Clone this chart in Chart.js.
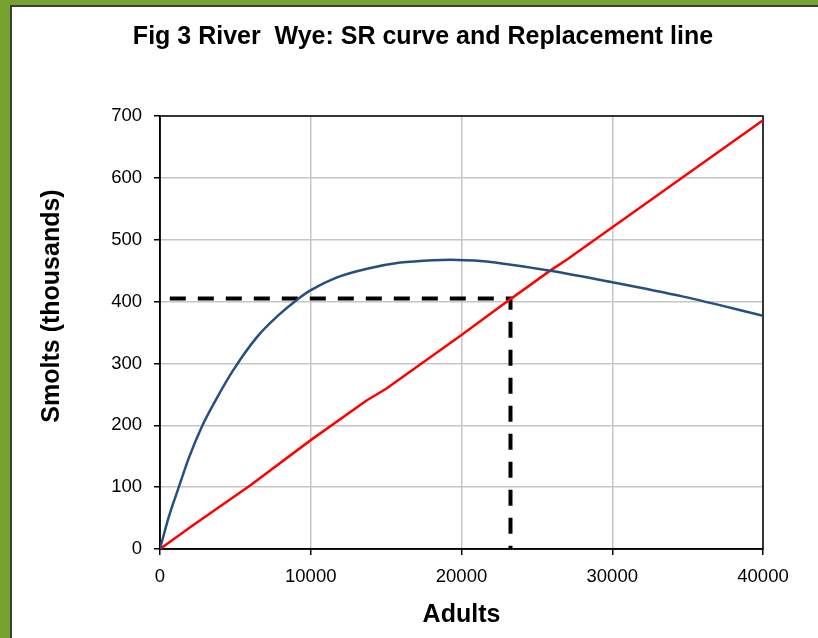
<!DOCTYPE html>
<html lang="en">
<head>
    <meta charset="UTF-8">
    <title>River Wye SR curve</title>
    <script src="https://cdn.jsdelivr.net/npm/chart.js"></script>
    <style>
        html, body {
            margin: 0;
            padding: 0;
            width: 818px;
            height: 638px;
            overflow: hidden;
            background: #78a22f;
        }
        #frame {
            position: absolute;
            left: 10px;
            top: 5px;
            width: 820px;
            height: 640px;
            background: #ffffff;
            border-left: 2px solid #3c3c3c;
            border-top: 2px solid #3c3c3c;
        }
        #srChart {
            position: absolute;
            left: 0;
            top: 0;
        }
    </style>
</head>
<body>
    <div id="frame"></div>
    <canvas id="srChart" width="818" height="638"></canvas>

    <script>
        // Stock-recruitment curve (adults -> smolts, thousands)
        const srAdults = [0, 583, 1246, 1909, 2797, 3678, 4827, 6442, 7768, 9094, 9975, 11745, 13733, 15941, 18150, 19255, 21462, 22570, 25883, 29860, 34718, 40000];
        const srSmolts = [0, 52, 100, 147, 199, 240, 288, 343, 376, 403, 418, 439, 453, 463, 467, 467.5, 465, 462, 450, 432, 408, 377];

        // Replacement line
        const repAdults = [0, 2000, 6000, 10000, 13700, 15000, 20000, 22570, 25880, 27000, 40000];
        const repSmolts = [0, 35, 103, 176, 240, 259, 346, 392, 450, 468, 693];

        // Dashed guide to the crossing point
        const guideAdults = [650, 23250, 23250];
        const guideSmolts = [405, 405, 0];

        const yTicks = [0, 100, 200, 300, 400, 500, 600, 700];

        const chartTitle = 'Fig 3 River  Wye: SR curve and Replacement line';
        const yAxisTitle = 'Smolts (thousands)';

        const toXY = (xs, ys) => xs.map((x, i) => ({ x: x, y: ys[i] }));

        const fontFamily = "'Liberation Sans', Arial, sans-serif";

        // box round the plot area (top and right edges too)
        const plotFrame = {
            id: 'plotFrame',
            beforeDatasetsDraw(chart) {
                const { ctx, chartArea: a } = chart;
                ctx.save();
                ctx.strokeStyle = '#000000';
                ctx.lineWidth = 1.5;
                ctx.strokeRect(a.left, a.top, a.right - a.left, a.bottom - a.top);
                ctx.restore();
            }
        };

        // heading and rotated y axis title
        const extraText = {
            id: 'extraText',
            afterDraw(chart) {
                const ctx = chart.ctx;
                ctx.save();
                ctx.fillStyle = '#000000';
                ctx.textAlign = 'center';
                ctx.textBaseline = 'middle';
                ctx.font = "bold 25px " + fontFamily;
                ctx.fillText(chartTitle, 423, 37);

                ctx.translate(52, 306);
                ctx.rotate(-Math.PI / 2);
                ctx.fillText(yAxisTitle, 0, 0);
                ctx.restore();
            }
        };

        const ctx = document.getElementById('srChart').getContext('2d');
        new Chart(ctx, {
            type: 'line',
            data: {
                datasets: [
                    {
                        label: 'SR curve',
                        data: toXY(srAdults, srSmolts),
                        borderColor: '#264f80',
                        borderWidth: 2.5,
                        pointRadius: 0,
                        cubicInterpolationMode: 'monotone',
                        fill: false
                    },
                    {
                        label: 'Replacement line',
                        data: toXY(repAdults, repSmolts),
                        borderColor: '#ff0000',
                        borderWidth: 2.5,
                        pointRadius: 0,
                        tension: 0,
                        fill: false
                    },
                    {
                        label: 'Equilibrium',
                        data: toXY(guideAdults, guideSmolts),
                        borderColor: '#000000',
                        borderWidth: 4,
                        borderDash: [16, 12],
                        pointRadius: 0,
                        tension: 0,
                        fill: false
                    }
                ]
            },
            options: {
                responsive: false,
                animation: false,
                layout: {
                    padding: { left: 0, right: 55, top: 116, bottom: 0 }
                },
                plugins: {
                    legend: { display: false },
                    tooltip: { enabled: false },
                    title: { display: false }
                },
                scales: {
                    x: {
                        type: 'linear',
                        min: 0,
                        max: 40000,
                        afterFit: (scale) => { scale.height = 89; },
                        ticks: {
                            stepSize: 10000,
                            color: '#000000',
                            padding: 11,
                            maxRotation: 0,
                            font: { family: fontFamily, size: 18.5 },
                            callback: (v) => String(v)
                        },
                        grid: {
                            color: '#c6c6c6',
                            lineWidth: 1.5,
                            tickColor: '#000000',
                            tickLength: 6,
                            tickWidth: 1.5
                        },
                        border: { color: '#000000', width: 1.5 },
                        title: {
                            display: true,
                            text: 'Adults',
                            color: '#000000',
                            font: { family: fontFamily, size: 25, weight: 'bold' },
                            padding: { top: 0, bottom: 8 }
                        }
                    },
                    y: {
                        min: 0,
                        max: 700,
                        afterFit: (scale) => { scale.width = 160; },
                        afterBuildTicks: (scale) => {
                            scale.ticks = yTicks.map(v => ({ value: v }));
                        },
                        ticks: {
                            color: '#000000',
                            padding: 12,
                            font: { family: fontFamily, size: 18.5 },
                            callback: (v) => String(v)
                        },
                        grid: {
                            color: '#c6c6c6',
                            lineWidth: 1.5,
                            tickColor: '#000000',
                            tickLength: 6,
                            tickWidth: 1.5
                        },
                        border: { color: '#000000', width: 1.5 }
                    }
                }
            },
            plugins: [plotFrame, extraText]
        });
    </script>
</body>
</html>
